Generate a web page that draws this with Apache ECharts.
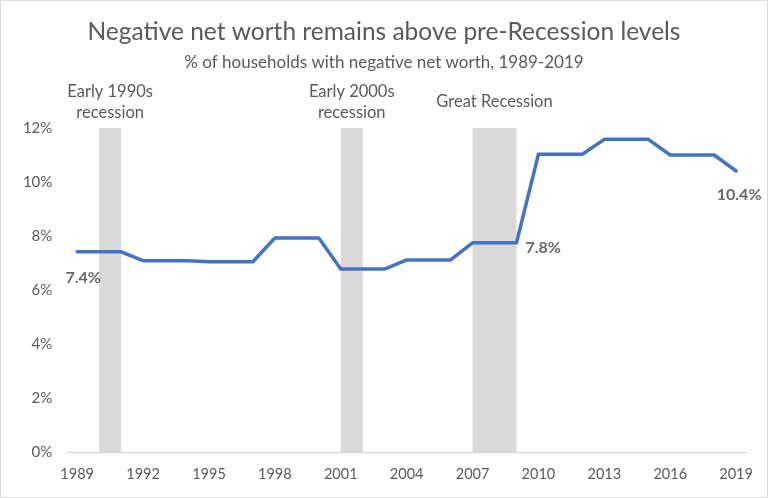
<!DOCTYPE html>
<html><head><meta charset="utf-8">
<script src="https://cdn.jsdelivr.net/npm/echarts@6/dist/echarts.min.js"></script>
<style>html,body{margin:0;padding:0;background:#fff}#c{width:768px;height:498px}</style>
</head><body><div id="c"></div>
<script>
const years = [1989,1990,1991,1992,1993,1994,1995,1996,1997,1998,1999,2000,2001,2002,2003,2004,2005,2006,2007,2008,2009,2010,2011,2012,2013,2014,2015,2016,2017,2018,2019];
const negNetWorth = [7.42,7.42,7.42,7.09,7.09,7.09,7.05,7.05,7.05,7.93,7.93,7.93,6.78,6.78,6.78,7.12,7.12,7.12,7.75,7.75,7.75,11.03,11.03,11.03,11.58,11.58,11.58,11.0,11.0,11.0,10.41];
const tickYears = [1989,1992,1995,1998,2001,2004,2007,2010,2013,2016,2019];
const recessionStart = [1990,2001,2007];
const recessionEnd = [1991,2002,2009];
const recessionNames = ['Early 1990s\nrecession','Early 2000s\nrecession','Great Recession'];
const labelYears = [1989,2009,2019];
const labelTexts = ['7.4%','7.8%','10.4%'];

const font = 'Lato, "Open Sans", sans-serif';
const chart = echarts.init(document.getElementById('c'), null, {renderer:'canvas'});
const labelOffsets = {1989:{position:'bottom', offset:[6,13]}, 2009:{position:'right', offset:[4,5]}, 2019:{position:'bottom', offset:[3,11]}};
const labelData = labelYears.map((y,i)=>({
  value:[y, negNetWorth[years.indexOf(y)]],
  label:Object.assign({show:true, formatter:labelTexts[i], fontWeight:'bold', fontSize:16, color:'#404040', fontFamily:font}, labelOffsets[y])
}));
chart.setOption({
  animation:false,
  title:[
    {text:'Negative net worth remains above pre-Recession levels', left:'center', top:15, textStyle:{fontFamily:font, fontWeight:'normal', fontSize:24.5, color:'#595959'}},
    {text:'% of households with negative net worth, 1989-2019', left:'center', top:49, textStyle:{fontFamily:font, fontWeight:'normal', fontSize:17, color:'#595959'}}
  ],
  grid:{left:67.3, right:22, top:128, bottom:45.7},
  xAxis:{type:'value', min:1988.55, max:2019.45,
    axisLine:{show:true, lineStyle:{color:'#D9D9D9', width:1.3}},
    axisTick:{show:false},
    splitLine:{show:false},
    axisLabel:{customValues:tickYears, formatter:v=>String(v), color:'#595959', fontSize:14.5, fontFamily:font, margin:15}
  },
  yAxis:{type:'value', min:0, max:12, interval:2,
    axisLine:{show:false}, axisTick:{show:false}, splitLine:{show:false},
    axisLabel:{formatter:v=>v+'%', color:'#595959', fontSize:15, fontFamily:font, margin:15}
  },
  series:[{
    type:'line', data:years.map((y,i)=>[y,negNetWorth[i]]), symbol:'none', z:3,
    lineStyle:{color:'#4472C4', width:3.5, cap:'round', join:'round'},
    markArea:{silent:true, itemStyle:{color:'#D9D9D9'},
      label:{show:true, position:['50%',-26], align:'center', verticalAlign:'middle', color:'#595959', fontSize:16.5, fontFamily:font, lineHeight:21},
      data:recessionStart.map((s,i)=>[{xAxis:s, yAxis:0, name:recessionNames[i]},{xAxis:recessionEnd[i], yAxis:12}])
    }
  },{
    type:'scatter', data:labelData, symbolSize:0, z:4, silent:true
  }],
  graphic:[{type:'rect', shape:{x:0.5,y:0.5,width:767,height:497}, style:{fill:'none', stroke:'#D9D9D9', lineWidth:1}, silent:true}]
});
</script></body></html>
